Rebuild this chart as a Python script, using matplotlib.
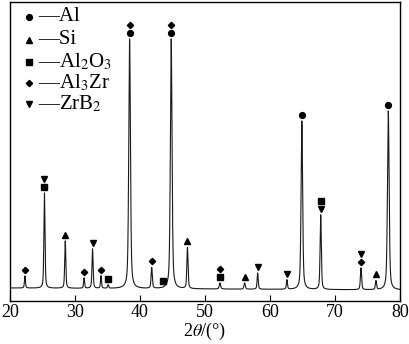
import numpy as np
import matplotlib
matplotlib.use("Agg")
import matplotlib.pyplot as plt

plt.rcParams["font.family"] = ["Liberation Serif", "DejaVu Serif"]
plt.rcParams["mathtext.fontset"] = "stix"

# XRD 峰位 (2theta, deg) 与峰顶强度 (任意单位)
peak_pos = [22.3, 25.3, 28.5, 31.4, 32.7, 34.0, 35.1, 38.4, 41.8, 43.5, 44.8,
            47.3, 52.3, 56.1, 58.1, 62.6, 64.9, 67.8, 74.0, 76.3, 78.2]
peak_int = [25, 108, 60, 23, 52, 25, 16, 262, 33, 12, 262,
            53, 18, 18, 28, 21, 180, 86, 33, 20, 190]
peak_fwhm = [0.18, 0.2, 0.2, 0.18, 0.2, 0.18, 0.2, 0.3, 0.22, 0.2, 0.3,
             0.22, 0.25, 0.25, 0.2, 0.2, 0.28, 0.22, 0.22, 0.22, 0.3]
base_x = [20, 80]
base_y = [13, 11]

# 物相标记: 峰位及叠放层次
phases = ["Al", "Si", "Al$_2$O$_3$", "Al$_3$Zr", "ZrB$_2$"]
phase_marker = ["o", "^", "s", "D", "v"]
phase_msize = [4.2, 4.2, 4.0, 3.2, 4.2]
phase_pos = [
    [38.4, 44.8, 64.9, 78.2],
    [28.5, 47.3, 56.1, 76.3],
    [25.3, 35.1, 43.5, 52.3, 67.8],
    [22.3, 31.4, 34.0, 38.4, 41.8, 44.8, 52.3, 74.0],
    [25.3, 32.7, 58.1, 62.6, 67.8, 74.0],
]
phase_level = [
    [0, 0, 0, 0],
    [0, 0, 0, 0],
    [0, 0, 0, 0, 1],
    [0, 0, 0, 1, 0, 1, 1, 0],
    [1, 0, 0, 0, 0, 1],
]


def pattern(x):
    y = np.interp(x, base_x, base_y)
    for p, h, w in zip(peak_pos, peak_int, peak_fwhm):
        amp = h - np.interp(p, base_x, base_y)
        g = np.exp(-4 * np.log(2) * (x - p) ** 2 / w ** 2)
        l = 1.0 / (1 + 4 * (x - p) ** 2 / w ** 2)
        y = y + amp * (0.5 * g + 0.5 * l)
    return y


x = np.arange(20, 80.001, 0.01)
y = pattern(x)

fig = plt.figure(figsize=(4.09, 3.44), dpi=100)
ax = fig.add_axes([10 / 409, 43 / 344, 390 / 409, 299 / 344])
ax.plot(x, y, color="#1a1a1a", lw=0.8)

for name, mk, ms, pos, lvl in zip(phases, phase_marker, phase_msize, phase_pos, phase_level):
    py = [pattern(np.array([p]))[0] + 6 + 8 * l for p, l in zip(pos, lvl)]
    ax.plot(pos, py, ls="none", marker=mk, ms=ms, color="black")

# 图例
leg_y = [0.950, 0.873, 0.800, 0.729, 0.659]
for name, mk, ms, ly in zip(phases, phase_marker, phase_msize, leg_y):
    ax.plot([0.049], [ly], marker=mk, ms=ms, color="black", transform=ax.transAxes)
    ax.text(0.072, ly, "\u2014" + name, transform=ax.transAxes, fontsize=15,
            va="center", ha="left")

ax.set_xlim(20, 80)
ax.set_ylim(0, 299)
ax.set_xticks([20, 30, 40, 50, 60, 70, 80])
ax.set_yticks([])
ax.tick_params(axis="x", direction="in", length=4, labelsize=13, pad=2)
for s in ax.spines.values():
    s.set_linewidth(1.0)
fig.text(205 / 409, 2 / 344, r"2$\theta$/(°)", fontsize=13, ha="center", va="bottom")

fig.savefig("out.png", dpi=100)
